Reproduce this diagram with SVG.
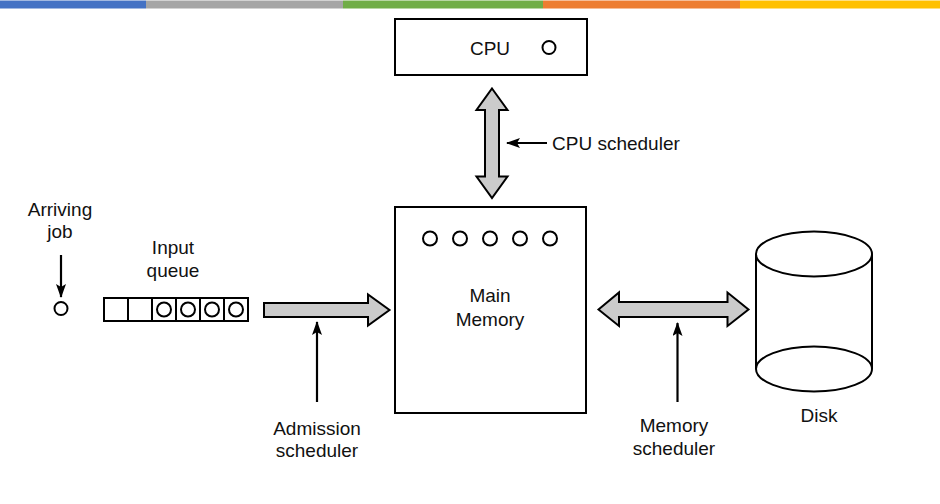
<svg xmlns="http://www.w3.org/2000/svg" width="940" height="504" viewBox="0 0 940 504">
  <defs>
    <marker id="tip" viewBox="0 0 14 10" refX="13" refY="5" markerWidth="14" markerHeight="10" markerUnits="userSpaceOnUse" orient="auto">
      <path d="M0,0 L14,5 L0,10 L3,5 Z" fill="#000"/>
    </marker>
    <style>
      .box { fill: #fff; stroke: #000; stroke-width: 2; }
      .slot { fill: none; stroke: #000; stroke-width: 2; }
      .job { fill: #fff; stroke: #000; stroke-width: 2; }
      .flow { fill: #cbcbcb; stroke: #000; stroke-width: 2; stroke-linejoin: miter; }
      .ptr { fill: none; stroke: #000; stroke-width: 2.2; }
      .lbl { font-family: "Liberation Sans", Arial, sans-serif; font-size: 19px; fill: #111; text-anchor: middle; }
      .lbl-start { text-anchor: start; }
    </style>
  </defs>

  <rect width="940" height="504" fill="#fff"/>

  <!-- colour band along the top edge -->
  <g id="band">
    <rect x="0" y="0.5" width="146" height="8" fill="#4472C4"/>
    <rect x="146" y="0.5" width="197" height="8" fill="#A5A5A5"/>
    <rect x="343" y="0.5" width="200" height="8" fill="#70AD47"/>
    <rect x="543" y="0.5" width="197" height="8" fill="#ED7D31"/>
    <rect x="740" y="0.5" width="200" height="8" fill="#FFC000"/>
  </g>

  <!-- CPU -->
  <g id="cpu">
    <rect class="box" x="395" y="19" width="192" height="56"/>
    <text class="lbl" x="490" y="55">CPU</text>
    <circle class="job" cx="549" cy="47.5" r="6.5"/>
  </g>

  <!-- main memory with resident jobs -->
  <g id="main-memory">
    <rect class="box" x="395" y="207" width="191" height="206"/>
    <circle class="job" cx="430" cy="238.5" r="7"/>
    <circle class="job" cx="460" cy="238.5" r="7"/>
    <circle class="job" cx="490" cy="238.5" r="7"/>
    <circle class="job" cx="520" cy="238.5" r="7"/>
    <circle class="job" cx="550" cy="238.5" r="7"/>
    <text class="lbl" x="490" y="302">Main</text>
    <text class="lbl" x="490" y="326">Memory</text>
  </g>

  <!-- disk -->
  <g id="disk">
    <path class="box" d="M756,254 L756,369 A58,22.5 0 0 0 872,369 L872,254"/>
    <ellipse class="box" cx="814" cy="254" rx="58" ry="22.5"/>
    <path class="slot" d="M756,369 A58,22.5 0 0 1 872,369"/>
    <text class="lbl" x="819" y="422">Disk</text>
  </g>

  <!-- input queue: six slots, four occupied -->
  <g id="input-queue">
    <rect class="box" x="104" y="298" width="144" height="23"/>
    <path class="slot" d="M128,298 V321 M152,298 V321 M176,298 V321 M200,298 V321 M224,298 V321"/>
    <circle class="job" cx="164" cy="309.5" r="7"/>
    <circle class="job" cx="188" cy="309.5" r="7"/>
    <circle class="job" cx="212" cy="309.5" r="7"/>
    <circle class="job" cx="236" cy="309.5" r="7"/>
    <text class="lbl" x="173" y="254">Input</text>
    <text class="lbl" x="173" y="277">queue</text>
  </g>

  <!-- arriving job -->
  <g id="arriving-job">
    <circle class="job" cx="61" cy="308.5" r="6.5"/>
    <text class="lbl" x="60" y="216">Arriving</text>
    <text class="lbl" x="60" y="238">job</text>
  </g>

  <!-- scheduler labels -->
  <g id="cpu-scheduler">
    <text class="lbl lbl-start" x="552" y="150">CPU scheduler</text>
  </g>
  <g id="admission-scheduler">
    <text class="lbl" x="317" y="435">Admission</text>
    <text class="lbl" x="317" y="457">scheduler</text>
  </g>
  <g id="memory-scheduler">
    <text class="lbl" x="674" y="432">Memory</text>
    <text class="lbl" x="674" y="455">scheduler</text>
  </g>

  <!-- connectors -->
  <g id="connectors">
    <!-- CPU <-> memory -->
    <path class="flow" d="M492,88.5 L507.5,110 L499,110 L499,176.5 L507.5,176.5 L492,198 L476.5,176.5 L485,176.5 L485,110 L476.5,110 Z"/>
    <!-- input queue -> memory -->
    <path class="flow" d="M264,303 L368,303 L368,294.5 L389.5,310 L368,325.5 L368,317 L264,317 Z"/>
    <!-- memory <-> disk -->
    <path class="flow" d="M598.5,309.5 L619,292.5 L619,302 L727.5,302 L727.5,292.5 L748.5,309.5 L727.5,326 L727.5,317 L619,317 L619,326 Z"/>
    <!-- pointer arrows -->
    <line class="ptr" x1="61" y1="255" x2="61" y2="297" marker-end="url(#tip)"/>
    <line class="ptr" x1="547" y1="143" x2="507" y2="143" marker-end="url(#tip)"/>
    <line class="ptr" x1="317" y1="402" x2="317" y2="322" marker-end="url(#tip)"/>
    <line class="ptr" x1="677.5" y1="402" x2="677.5" y2="323" marker-end="url(#tip)"/>
  </g>
</svg>
